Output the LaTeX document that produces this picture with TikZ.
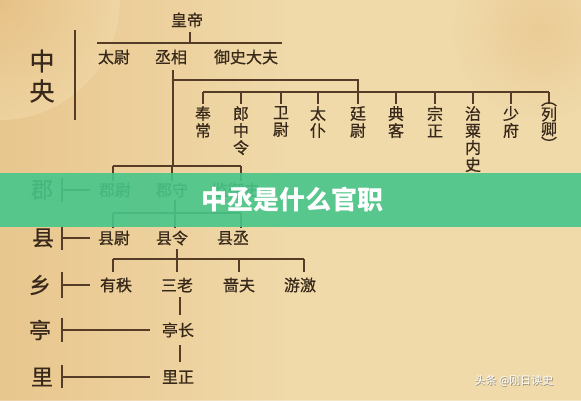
\documentclass[tikz,border=0pt]{standalone}
\usepackage{fontspec}
\setmainfont{Noto Sans CJK SC}
\newfontfamily\medcjk[FakeBold=0.6]{Noto Sans CJK SC}
\definecolor{bg}{RGB}{240,218,170}
\definecolor{bgdark}{RGB}{230,190,130}
\definecolor{ink}{RGB}{55,40,26}
\definecolor{linec}{RGB}{85,60,38}
\definecolor{banner}{RGB}{72,198,138}
\tikzset{
  item/.style={font=\medcjk\fontsize{16}{17}\selectfont, text=ink, inner sep=1pt},
  vcol/.style={item, align=center, anchor=north},
  lvl/.style={font=\medcjk\fontsize{22}{24}\selectfont, text=ink, inner sep=1pt},
  conn/.style={draw=linec, line width=1.2pt},
}
\begin{document}
\begin{tikzpicture}[x=1pt,y=-1pt]
\useasboundingbox (0,0) rectangle (581,400);
% background
\fill[bg] (0,0) rectangle (581,400);
\shade[left color=bgdark, right color=bg, middle color=bg, opacity=0.7] (0,0) rectangle (581,400);
\shade[inner color=bgdark, outer color=bg, opacity=0.6] (0,0) circle (120);
\shade[inner color=bgdark, outer color=bg, opacity=0.5] (540,30) circle (90);

% central
\node[font=\medcjk\fontsize{25}{26}\selectfont, text=ink, inner sep=0pt] (zh) at (42,61) {中};
\node[font=\medcjk\fontsize{25}{26}\selectfont, text=ink, inner sep=0pt] (yang) at (42,91) {央};
\coordinate (cbt) at (75,30); \coordinate (cbb) at (75,120);
\draw[conn] (cbt) -- (cbb);

\node[item] (hd) at (187,20) {皇帝};
\node[item] (tw) at (114,57) {太尉};
\node[item] (cx) at (171,57) {丞相};
\node[item] (ys) at (246,57) {御史大夫};
\coordinate (h0) at (190,32); \coordinate (h1) at (190,43);
\coordinate (tl) at (97,43); \coordinate (tr) at (282,43);
\draw[conn] (h0) -- (h1);
\draw[conn] (tl) -- (tr);

% from chancellor
\coordinate (c0) at (173,70); \coordinate (c1) at (173,80); \coordinate (c2) at (173,166);
\coordinate (t0) at (358,80); \coordinate (t1) at (358,104);
\coordinate (ml) at (203,92); \coordinate (mr) at (549,92);
\draw[conn] (c0) -- (c2);
\draw[conn] (c1) -- (t0) -- (t1);
\draw[conn] (ml) -- (mr);
\foreach \x/\n/\t in {203/a/奉\\常, 241/b/郎\\中\\令, 281/c/卫\\尉, 318/d/太\\仆, 358/e/廷\\尉, 396/f/典\\客, 435/g/宗\\正, 473/h/治\\粟\\内\\史, 511/i/少\\府}{
  \draw[conn] (\x,92) -- (\x,104);
  \node[vcol] (q\n) at (\x,105) {\t};
}
\draw[conn] (549,92) -- (549,104);
\node[item, align=center, anchor=north, font=\medcjk\fontsize{16}{15}\selectfont] (qj) at (549,101) {︵\\列\\卿\\︶};

% commandery
\node[lvl] (jun) at (42,190) {郡};
\node[item] (jw) at (115,190) {郡尉};
\node[item] (js) at (172,190) {郡守};
\node[item] (jy) at (236,190) {监御史};
\draw[conn] (113,166) -- (241,166);
\draw[conn] (113,166) -- (113,181);
\draw[conn] (172,166) -- (172,181);
\draw[conn] (241,166) -- (241,181);
\draw[conn] (62,178) -- (62,202);
\draw[conn] (62,190) -- (90,190);

% county
\node[lvl] (xian) at (43,238) {县};
\node[item] (xw) at (114,238) {县尉};
\node[item] (xl) at (172,238) {县令};
\node[item] (xc) at (233,238) {县丞};
\draw[conn] (175,200) -- (175,228);
\draw[conn] (113,213) -- (241,213);
\draw[conn] (113,213) -- (113,228);
\draw[conn] (241,213) -- (241,228);
\draw[conn] (62,227) -- (62,250);
\draw[conn] (62,238) -- (90,238);

% township
\node[lvl] (xiang) at (40,285) {乡};
\node[item] (yz) at (116,285) {有秩};
\node[item] (sl) at (177,285) {三老};
\node[item] (sf) at (239,285) {啬夫};
\node[item] (yj) at (300,285) {游激};
\draw[conn] (177,249) -- (177,272);
\draw[conn] (113,259) -- (304,259);
\draw[conn] (113,259) -- (113,272);
\draw[conn] (239,259) -- (239,272);
\draw[conn] (304,259) -- (304,272);
\draw[conn] (62,272) -- (62,298);
\draw[conn] (62,285) -- (90,285);

% pavilion
\node[lvl] (ting) at (40,330) {亭};
\node[item] (tz) at (178,330) {亭长};
\draw[conn] (180,297) -- (180,315);
\draw[conn] (62,318) -- (62,342);
\draw[conn] (62,330) -- (150,330);

% village
\node[lvl] (li) at (42,377) {里};
\node[item] (lz) at (178,377) {里正};
\draw[conn] (180,345) -- (180,362);
\draw[conn] (62,365) -- (62,388);
\draw[conn] (62,377) -- (150,377);

% banner
\fill[banner, opacity=0.9] (0,173) rectangle (581,227);
\node[font=\fontsize{26}{28}\selectfont\bfseries, text=white] (title) at (292,200) {中丞是什么官职};

% watermark
\node[font=\fontsize{11}{12}\selectfont, text=black!60, opacity=0.7] at (514.8,381.8) {头条 @刚日读史};
\node[font=\fontsize{11}{12}\selectfont, text=white] (wm) at (514,381) {头条 @刚日读史};
\end{tikzpicture}
\end{document}
